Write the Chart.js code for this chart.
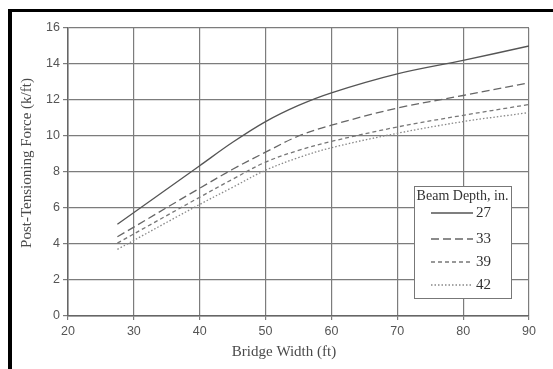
<!DOCTYPE html>
<html>
<head>
<meta charset="utf-8">
<script src="https://cdn.jsdelivr.net/npm/chart.js@4.4.1/dist/chart.umd.min.js"></script>
<style>
  html, body { margin: 0; padding: 0; background: #fff; overflow: hidden; }
  #frame { position: absolute; left: 8px; top: 9px; width: 600px; height: 400px;
           border-left: 4px solid #000; border-top: 3px solid #000; }
  #chart { position: absolute; left: 0; top: 0; }
</style>
</head>
<body>
<div id="frame"></div>
<canvas id="chart" width="553" height="369"></canvas>
<script>
// bridge width (ft) and post-tensioning force (k/ft) per beam depth
const widths  = [27.5, 40, 45, 50, 55, 60, 70, 80, 90];
const depth27 = [5.1, 8.35, 9.65, 10.8, 11.7, 12.4, 13.45, 14.2, 15.0];
const depth33 = [4.4, 7.1, 8.15, 9.1, 10.0, 10.6, 11.55, 12.25, 12.95];
const depth39 = [4.05, 6.6, 7.6, 8.55, 9.2, 9.7, 10.5, 11.15, 11.75];
const depth42 = [3.7, 6.2, 7.15, 8.1, 8.8, 9.35, 10.15, 10.8, 11.3];

const depthLabels = ['27', '33', '39', '42'];
const xTicks = [20, 30, 40, 50, 60, 70, 80, 90];
const yTicks = [0, 2, 4, 6, 8, 10, 12, 14, 16];

const serif = '"Liberation Serif", "DejaVu Serif", serif';
const sans = '"Liberation Sans", Arial, sans-serif';

const styles = [
  { color: '#555', dash: [] },
  { color: '#666', dash: [8, 4] },
  { color: '#777', dash: [4, 3] },
  { color: '#888', dash: [1.5, 2] },
];

function series(values, i) {
  return {
    label: depthLabels[i],
    data: values.map((v, k) => ({ x: widths[k], y: v })),
    borderColor: styles[i].color,
    borderDash: styles[i].dash,
    borderWidth: 1.3,
    pointRadius: 0,
    fill: false,
    tension: 0.35,
  };
}

// axis titles and the boxed legend
const decorations = {
  id: 'decorations',
  afterDraw(chart) {
    const ctx = chart.ctx;
    ctx.save();
    ctx.fillStyle = '#4a4a4a';
    ctx.font = '15px ' + serif;
    ctx.textAlign = 'center';
    ctx.textBaseline = 'middle';
    ctx.fillText('Bridge Width (ft)', 284, 352);
    ctx.translate(27, 163);
    ctx.rotate(-Math.PI / 2);
    ctx.fillText('Post-Tensioning Force (k/ft)', 0, 0);
    ctx.restore();

    // legend box
    const bx = 414, by = 186, bw = 97, bh = 112;
    ctx.save();
    ctx.fillStyle = '#fff';
    ctx.fillRect(bx, by, bw, bh);
    ctx.strokeStyle = '#777';
    ctx.lineWidth = 1;
    ctx.strokeRect(bx + 0.5, by + 0.5, bw, bh);
    ctx.fillStyle = '#333';
    ctx.font = '14px ' + serif;
    ctx.textAlign = 'center';
    ctx.textBaseline = 'middle';
    ctx.fillText('Beam Depth, in.', bx + bw / 2, by + 10);
    const rows = [213, 239, 262, 285];
    chart.data.datasets.forEach((ds, i) => {
      ctx.beginPath();
      ctx.setLineDash(ds.borderDash);
      ctx.strokeStyle = ds.borderColor;
      ctx.lineWidth = 1.3;
      ctx.moveTo(431, rows[i]);
      ctx.lineTo(473, rows[i]);
      ctx.stroke();
      ctx.setLineDash([]);
      ctx.font = '15px ' + serif;
      ctx.textAlign = 'left';
      ctx.fillStyle = '#333';
      ctx.fillText(ds.label, 476, rows[i]);
    });
    ctx.restore();
  }
};

new Chart(document.getElementById('chart'), {
  type: 'line',
  data: {
    datasets: [
      series(depth27, 0),
      series(depth33, 1),
      series(depth39, 2),
      series(depth42, 3),
    ]
  },
  options: {
    responsive: false,
    animation: false,
    layout: { padding: { top: 28, right: 24, bottom: 0, left: 0 } },
    plugins: { legend: { display: false }, tooltip: { enabled: false } },
    scales: {
      x: {
        type: 'linear',
        min: 20, max: 90,
        afterBuildTicks(scale) { scale.ticks = xTicks.map(v => ({ value: v })); },
        afterFit(scale) { scale.height = 53; },
        grid: { color: '#7c7c7c', lineWidth: 1.2, tickLength: 4 },
        border: { color: '#666', width: 1.5 },
        ticks: { color: '#555', font: { family: sans, size: 12.5 }, padding: 4, maxRotation: 0 },
      },
      y: {
        type: 'linear',
        min: 0, max: 16,
        afterBuildTicks(scale) { scale.ticks = yTicks.map(v => ({ value: v })); },
        afterFit(scale) { scale.width = 68; },
        grid: { color: '#7c7c7c', lineWidth: 1.2, tickLength: 5 },
        border: { color: '#666', width: 1.5 },
        ticks: { color: '#555', font: { family: sans, size: 12.5 }, padding: 3 },
      }
    }
  },
  plugins: [decorations]
});
</script>
</body>
</html>
